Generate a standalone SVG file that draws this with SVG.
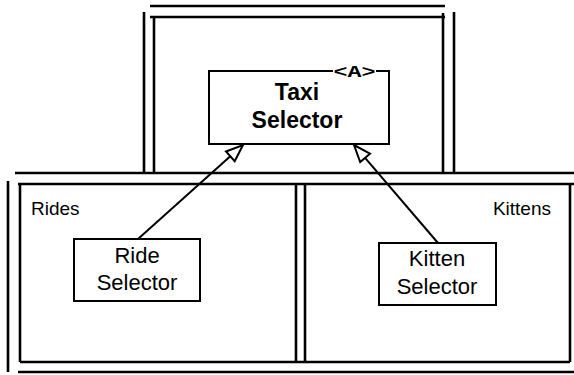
<svg xmlns="http://www.w3.org/2000/svg" width="574" height="375" viewBox="0 0 574 375">
<defs>
<style>
.wall{stroke:#000;stroke-width:2.6;fill:none;stroke-linecap:butt}
.box{stroke:#000;stroke-width:2;fill:#fff}
.lbl{font-family:"Liberation Sans",Arial,sans-serif;font-size:22px;fill:#000;text-anchor:middle}
.bold{font-weight:bold;font-size:23px}
.pkg{font-family:"Liberation Sans",Arial,sans-serif;font-size:19px;fill:#000}
.edge{stroke:#000;stroke-width:2;fill:none}
.head{stroke:#000;stroke-width:2;fill:#fff;stroke-linejoin:miter}
</style>
</defs>
<rect width="574" height="375" fill="#fff"/>
<g id="walls">
<line class="wall" x1="150" y1="6" x2="445" y2="6"/>
<line class="wall" x1="150" y1="17" x2="445" y2="17"/>
<line class="wall" x1="144" y1="12" x2="144" y2="173"/>
<line class="wall" x1="154" y1="16" x2="154" y2="173"/>
<line class="wall" x1="443" y1="13" x2="443" y2="173"/>
<line class="wall" x1="454" y1="12" x2="454" y2="173"/>
<line class="wall" x1="15" y1="173" x2="574" y2="173"/>
<line class="wall" x1="18" y1="184" x2="574" y2="184"/>
<line class="wall" x1="8" y1="181" x2="8" y2="372"/>
<line class="wall" x1="20" y1="184" x2="20" y2="362"/>
<line class="wall" x1="296" y1="184" x2="296" y2="362"/>
<line class="wall" x1="305" y1="184" x2="305" y2="362"/>
<line class="wall" x1="570" y1="184" x2="570" y2="362"/>
<line class="wall" x1="20" y1="362" x2="570" y2="362"/>
<line class="wall" x1="18" y1="372" x2="574" y2="372"/>
</g>
<g id="pkg-rides"><text class="pkg" x="31" y="215">Rides</text></g>
<g id="pkg-kittens"><text class="pkg" x="551" y="215" text-anchor="end">Kittens</text></g>
<g id="connectors">
<line class="edge" x1="138" y1="239" x2="230.3" y2="156.3"/>
<polygon class="head" points="243,145 234.7,161.2 226,151.5"/>
<line class="edge" x1="438" y1="243" x2="365.1" y2="157.9"/>
<polygon class="head" points="354,145 370,153.7 360.2,162.1"/>
</g>
<g id="taxi-selector">
<path class="box" d="M333,71 L209,71 L209,144 L389,144 L389,71 L376,71"/>
<text x="354.5" y="76.5" font-family="'Liberation Mono','Courier New',monospace" font-weight="bold" font-size="17" textLength="42" lengthAdjust="spacingAndGlyphs" text-anchor="middle">&lt;A&gt;</text>
<text class="lbl bold" x="297" y="100">Taxi</text>
<text class="lbl bold" x="297" y="128">Selector</text>
</g>
<g id="ride-selector">
<rect class="box" x="74" y="239" width="126" height="62"/>
<text class="lbl" x="137" y="263">Ride</text>
<text class="lbl" x="137" y="290">Selector</text>
</g>
<g id="kitten-selector">
<rect class="box" x="379" y="243" width="117" height="62"/>
<text class="lbl" x="437" y="266">Kitten</text>
<text class="lbl" x="437" y="294">Selector</text>
</g>
</svg>
